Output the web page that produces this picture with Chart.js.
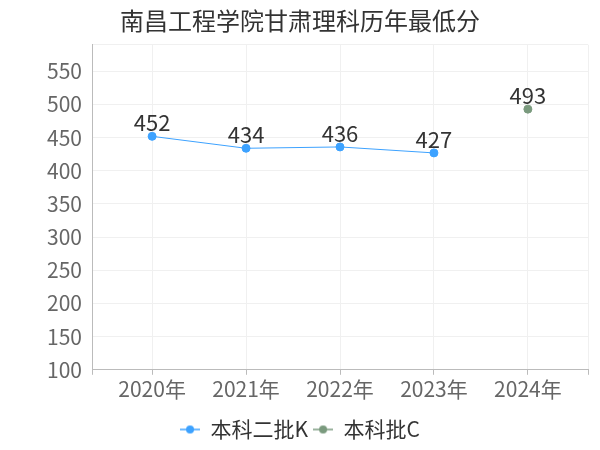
<!DOCTYPE html>
<html lang="zh">
<head>
  <meta charset="UTF-8">
  <title>南昌工程学院甘肃理科历年最低分</title>
  <style>
    body { margin: 0; background: #fff; }
    #wrap { width: 600px; height: 450px; }
  </style>
</head>
<body>
  <div id="wrap"><canvas id="myChart" width="600" height="450"></canvas></div>

  <script src="https://cdn.jsdelivr.net/npm/chart.js"></script>
  <script>
    const years = [2020, 2021, 2022, 2023, 2024];
    const serieK = [452, 434, 436, 427, null];
    const serieC = [null, null, null, null, 493];
    const yTicks = [100, 150, 200, 250, 300, 350, 400, 450, 500, 550];

    const fuente = '"Noto Sans CJK SC", "Noto Sans", sans-serif';

    function marcaLeyenda(color) {
      const c = document.createElement('canvas');
      c.width = 20; c.height = 10;
      const g = c.getContext('2d');
      g.strokeStyle = color;
      g.lineWidth = 1.5;
      g.beginPath(); g.moveTo(0, 5); g.lineTo(20, 5); g.stroke();
      g.fillStyle = color;
      g.beginPath(); g.arc(10, 5, 4, 0, Math.PI * 2); g.fill();
      return c;
    }

    const etiquetas = {
      id: 'etiquetas',
      afterDatasetsDraw(chart) {
        const ctx = chart.ctx;
        ctx.save();
        ctx.font = '22px ' + fuente;
        ctx.fillStyle = '#333';
        ctx.textAlign = 'center';
        ctx.textBaseline = 'alphabetic';
        chart.data.datasets.forEach((ds, i) => {
          chart.getDatasetMeta(i).data.forEach((pt, j) => {
            if (ds.data[j].y == null) return;
            ctx.fillText(ds.data[j].y, pt.x, pt.y - 5);
          });
        });
        ctx.restore();
      }
    };

    const datos = (arr) => years.map((a, i) => ({ x: a, y: arr[i] }));

    new Chart(document.getElementById('myChart'), {
      type: 'line',
      data: {
        datasets: [{
          label: '本科二批K',
          data: datos(serieK),
          borderColor: '#3da2ff',
          backgroundColor: '#3da2ff',
          borderWidth: 1,
          pointRadius: 4,
          pointHoverRadius: 4
        }, {
          label: '本科批C',
          data: datos(serieC),
          borderColor: '#7a9a7e',
          backgroundColor: '#7a9a7e',
          borderWidth: 1,
          pointRadius: 4,
          pointHoverRadius: 4
        }]
      },
      options: {
        responsive: false,
        animation: false,
        layout: { padding: { left: 12, right: 12, top: 0, bottom: 0 } },
        plugins: {
          title: {
            display: true,
            text: '南昌工程学院甘肃理科历年最低分',
            color: '#333',
            font: { family: fuente, size: 24, weight: 'normal' },
            padding: { top: 6, bottom: 10 }
          },
          legend: {
            position: 'bottom',
            labels: {
              color: '#333',
              font: { family: fuente, size: 21 },
              boxWidth: 20,
              boxHeight: 10,
              usePointStyle: true,
              padding: 5,
              generateLabels(chart) {
                const items = Chart.defaults.plugins.legend.labels.generateLabels(chart);
                items.forEach(it => { it.pointStyle = marcaLeyenda(chart.data.datasets[it.datasetIndex].borderColor); });
                return items;
              }
            }
          },
          tooltip: { enabled: false }
        },
        scales: {
          x: {
            type: 'linear',
            min: years[0] - 0.64,
            max: years[years.length - 1] + 0.64,
            afterBuildTicks(scale) {
              scale.ticks = [scale.min].concat(years, [scale.max]).map(v => ({ value: v }));
            },
            afterFit(scale) { scale.height += 10; },
            ticks: {
              color: '#666',
              font: { family: fuente, size: 21 },
              autoSkip: false,
              maxRotation: 0,
              padding: 2,
              callback: (v) => years.includes(v) ? v + '年' : ''
            },
            grid: { color: '#f0f0f0', tickColor: '#bbb', tickLength: 5 },
            border: { color: '#bbb' }
          },
          y: {
            min: 100,
            max: 590,
            afterBuildTicks(scale) {
              scale.ticks = yTicks.concat([scale.max]).map(v => ({ value: v }));
            },
            afterFit(scale) { scale.width = 80; },
            ticks: {
              color: '#666',
              font: { family: fuente, size: 21 },
              padding: 10,
              callback: (v) => yTicks.includes(v) ? v : ''
            },
            grid: { color: '#f0f0f0', drawTicks: false },
            border: { color: '#bbb' }
          }
        }
      },
      plugins: [etiquetas]
    });
  </script>
</body>
</html>
